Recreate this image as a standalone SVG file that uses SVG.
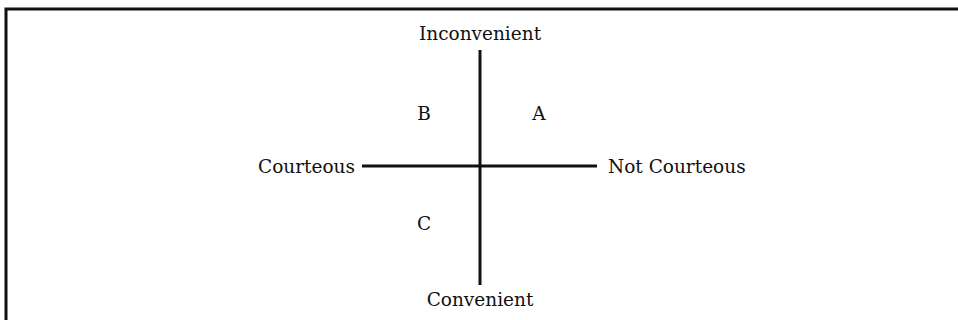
<svg xmlns="http://www.w3.org/2000/svg" width="958" height="320" viewBox="0 0 958 320">
<style>
text{font-family:"DejaVu Serif","Liberation Serif",serif;font-size:18.5px;fill:#111}
.ax{stroke:#111;stroke-width:3;fill:none}
</style>
<rect x="0" y="0" width="958" height="320" fill="#fff"/>
<rect x="6" y="9" width="1000" height="400" fill="none" stroke="#111" stroke-width="3"/>
<g id="connectors">
<line class="ax" x1="480" y1="50" x2="480" y2="285"/>
<line class="ax" x1="362" y1="166" x2="597" y2="166"/>
</g>
<g id="inconvenient"><text x="480" y="40" text-anchor="middle">Inconvenient</text></g>
<g id="convenient"><text x="480" y="306" text-anchor="middle">Convenient</text></g>
<g id="courteous"><text x="355" y="173" text-anchor="end">Courteous</text></g>
<g id="not-courteous"><text x="608" y="173">Not Courteous</text></g>
<g id="quadrant-a"><text x="539" y="120" text-anchor="middle">A</text></g>
<g id="quadrant-b"><text x="424" y="120" text-anchor="middle">B</text></g>
<g id="quadrant-c"><text x="424" y="230" text-anchor="middle">C</text></g>
</svg>
